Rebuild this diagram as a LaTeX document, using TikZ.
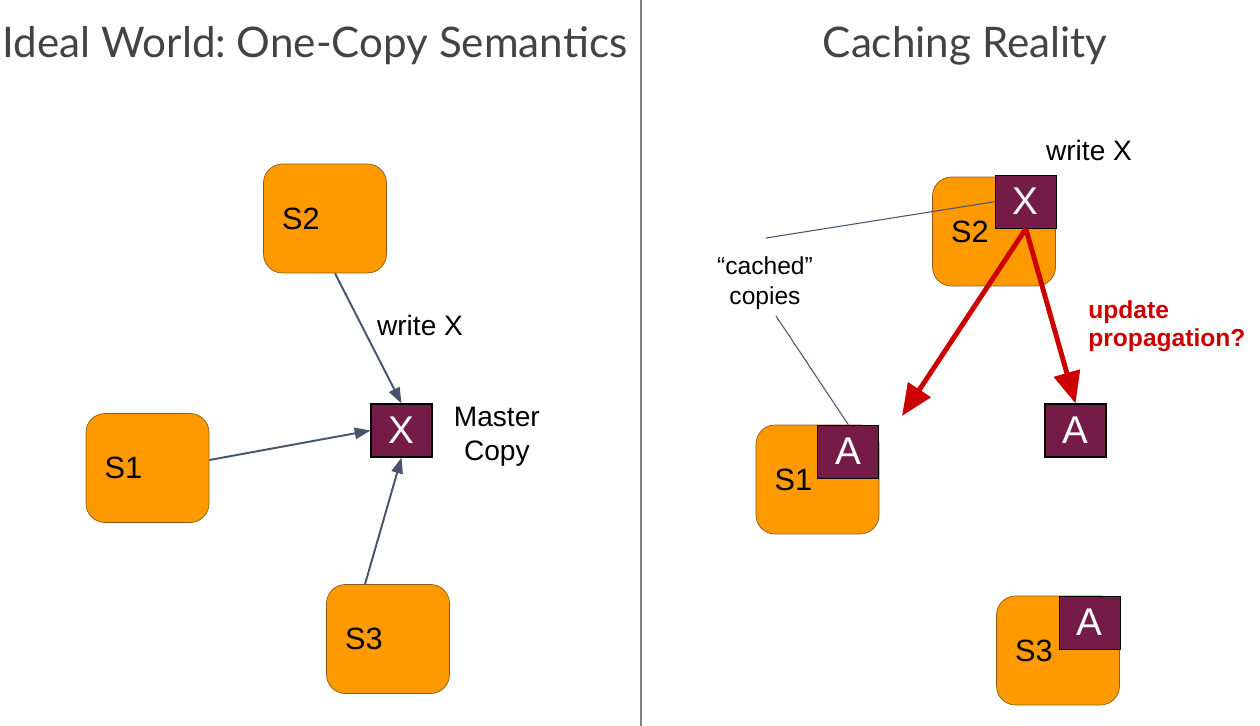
\documentclass[tikz,border=0pt]{standalone}
\usepackage{fontspec}
\setmainfont{Liberation Sans}
\newfontfamily\titlefont{Lato}
\usepackage{xcolor}
\usetikzlibrary{arrows.meta, positioning}

\definecolor{srvorange}{HTML}{FF9900}
\definecolor{srvedge}{HTML}{8A5A14}
\definecolor{copymaroon}{HTML}{741B47}
\definecolor{linkslate}{HTML}{47556B}
\definecolor{updred}{HTML}{CC0000}
\definecolor{titlegray}{HTML}{434343}

\frenchspacing
\begin{document}
\begin{tikzpicture}[
    x=0.02cm, y=-0.02cm,
    server/.style={rectangle, rounded corners=0.38cm, draw=srvedge, fill=srvorange, minimum width=2.46cm, minimum height=2.18cm, inner sep=0pt, text width=1.72cm, align=left, font=\fontsize{17.5}{20}\selectfont},
    copybox/.style={rectangle, draw=black, semithick, fill=copymaroon, text=white, minimum width=1.22cm, minimum height=1.06cm, inner sep=0pt, font=\fontsize{22}{24}\selectfont},
    note/.style={align=center, inner sep=0pt, font=\fontsize{16}{19}\selectfont},
    title/.style={anchor=base, text=titlegray, inner sep=0pt, font=\titlefont\fontsize{24}{28}\selectfont},
    link/.style={-{Triangle[length=9pt, width=6.5pt]}, line width=1.1pt, draw=linkslate, fill=linkslate},
    update/.style={-{Triangle[length=18pt, width=15pt]}, line width=2.8pt, draw=updred, fill=updred},
    callout/.style={line width=0.6pt, draw=linkslate}
]

\fill[white] (0,0) rectangle (1260,726);
\useasboundingbox (0,0) rectangle (1260,726);

% Titles and divider
\node[title] (idealtitle) at (315,58) {Ideal World: One-Copy Semantics};
\node[title] (cachetitle) at (965,58) {Caching Reality};
\draw[gray, line width=0.6pt] (641,0) -- (641,726);

% Left panel - one master copy
\node[server] (iS2) at (325,218.5) {S2};
\node[server] (iS1) at (147.5,468) {S1};
\node[server] (iS3) at (388,639) {S3};
\node[copybox] (master) at (401.5,430.5) {X};
\node[note, right=0.42cm of master, yshift=-0.12cm, font=\fontsize{16}{19.5}\selectfont] (masterlbl) {Master\\Copy};
\node[note] (iwrite) at (420,325) {write X};

\draw[link] ([xshift=0.2cm]iS2.south) -- (master.north);
\draw[link] ([yshift=0.16cm]iS1.east) -- (master.west);
\draw[link] ([xshift=-0.46cm]iS3.north) -- (master.south);

% Right panel - cached copies
\node[server] (cS2) at (994,231.5) {S2};
\node[server] (cS1) at (817.5,479.5) {S1};
\node[server] (cS3) at (1058,650.5) {S3};
\node[copybox, anchor=north east] (cX) at ([xshift=0.02cm, yshift=0.04cm]cS2.north east) {X};
\node[copybox, anchor=north east] (cA1) at (cS1.north east) {A};
\node[copybox, anchor=north east] (cA3) at ([xshift=0.02cm]cS3.north east) {A};
\node[copybox] (cA2) at (1075.5,430.5) {A};

\node[note] (cwrite) at (1089,150) {write X};
\node[note, font=\fontsize{14}{17}\selectfont] (cachedlbl) at (765,283) {“cached”\\copies};
\node[note, anchor=west, align=left, text=updred, font=\bfseries\fontsize{14}{16}\selectfont] (updlbl) at (1088,326) {update\\propagation?};

\coordinate (spreadend) at (902,416);
\coordinate (calloutA) at (766,238);
\coordinate (calloutB) at (776,316);

\draw[callout] (calloutA) -- (cX.west);
\draw[callout] (calloutB) -- (cA1.north);

\draw[update] (cX.south) -- (spreadend);
\draw[update] (cX.south) -- (cA2.north);

\end{tikzpicture}
\end{document}
